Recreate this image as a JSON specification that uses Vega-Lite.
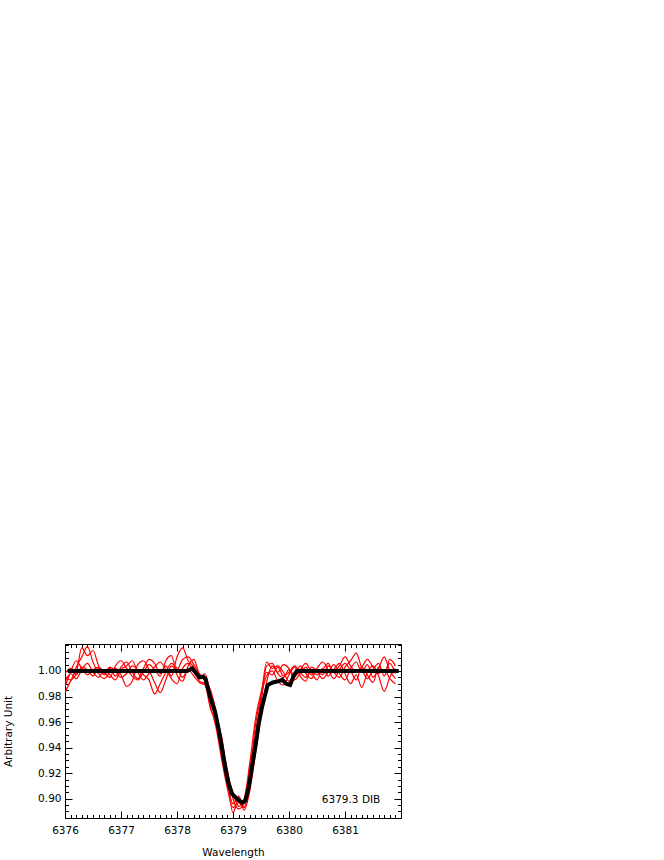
{
  "$schema": "https://vega.github.io/schema/vega-lite/v6.json",
  "width": 336,
  "height": 174,
  "autosize": {"type": "none"},
  "padding": {"left": 65, "top": 644, "right": 263, "bottom": 42},
  "background": "white",
  "config": {
    "view": {"stroke": "black", "strokeWidth": 1},
    "font": "DejaVu Sans",
    "axis": {"grid": false, "domain": false, "labelColor": "black", "titleColor": "black", "tickColor": "black", "labelFontSize": 10.5, "titleFontSize": 10.5, "titleFontWeight": "normal", "labelFlush": false, "labelOverlap": false}
  },
  "datasets": {
    "red": [
      {"w": 6376.0, "A": 0.983, "B": 0.996, "C": 0.991, "D": 0.998, "E": 0.988},
      {"w": 6376.1, "A": 0.992, "B": 0.993, "C": 0.998, "D": 1.002, "E": 0.999},
      {"w": 6376.2, "A": 0.998, "B": 1.003, "C": 0.994, "D": 0.997, "E": 1.008},
      {"w": 6376.3, "A": 1.018, "B": 1.011, "C": 1.001, "D": 1.003, "E": 1.002},
      {"w": 6376.4, "A": 1.012, "B": 1.019, "C": 1.006, "D": 1.001, "E": 0.997},
      {"w": 6376.5, "A": 1.016, "B": 1.007, "C": 0.999, "D": 0.996, "E": 1.001},
      {"w": 6376.6, "A": 1.004, "B": 0.998, "C": 0.995, "D": 1.002, "E": 1.003},
      {"w": 6376.7, "A": 0.997, "B": 0.994, "C": 1.001, "D": 0.998, "E": 0.999},
      {"w": 6376.8, "A": 1.002, "B": 0.999, "C": 0.997, "D": 1.003, "E": 0.995},
      {"w": 6376.9, "A": 0.996, "B": 1.002, "C": 0.993, "D": 1.000, "E": 1.004},
      {"w": 6377.0, "A": 1.003, "B": 0.997, "C": 1.001, "D": 0.995, "E": 1.008},
      {"w": 6377.1, "A": 1.007, "B": 0.988, "C": 1.004, "D": 0.998, "E": 1.002},
      {"w": 6377.2, "A": 0.999, "B": 0.992, "C": 1.008, "D": 1.004, "E": 0.996},
      {"w": 6377.3, "A": 0.994, "B": 1.005, "C": 0.999, "D": 1.001, "E": 0.993},
      {"w": 6377.4, "A": 1.002, "B": 1.008, "C": 0.993, "D": 0.997, "E": 0.999},
      {"w": 6377.5, "A": 1.009, "B": 1.001, "C": 0.998, "D": 0.993, "E": 1.005},
      {"w": 6377.6, "A": 1.006, "B": 0.991, "C": 1.003, "D": 0.982, "E": 1.001},
      {"w": 6377.7, "A": 0.998, "B": 0.983, "C": 1.007, "D": 0.990, "E": 0.996},
      {"w": 6377.8, "A": 1.004, "B": 0.993, "C": 1.001, "D": 0.999, "E": 1.008},
      {"w": 6377.9, "A": 0.996, "B": 1.004, "C": 0.994, "D": 1.006, "E": 1.012},
      {"w": 6378.0, "A": 1.011, "B": 1.001, "C": 0.990, "D": 1.002, "E": 0.997},
      {"w": 6378.1, "A": 1.018, "B": 1.009, "C": 1.002, "D": 0.995, "E": 0.992},
      {"w": 6378.2, "A": 1.008, "B": 1.011, "C": 1.006, "D": 1.001, "E": 1.004},
      {"w": 6378.3, "A": 1.003, "B": 1.005, "C": 0.999, "D": 0.996, "E": 1.009},
      {"w": 6378.4, "A": 0.992, "B": 0.998, "C": 0.994, "D": 0.991, "E": 0.997},
      {"w": 6378.5, "A": 0.990, "B": 0.993, "C": 0.998, "D": 0.989, "E": 0.992},
      {"w": 6378.6, "A": 0.972, "B": 0.985, "C": 0.981, "D": 0.970, "E": 0.976},
      {"w": 6378.7, "A": 0.955, "B": 0.968, "C": 0.958, "D": 0.962, "E": 0.964},
      {"w": 6378.8, "A": 0.930, "B": 0.945, "C": 0.935, "D": 0.948, "E": 0.939},
      {"w": 6378.9, "A": 0.908, "B": 0.922, "C": 0.912, "D": 0.915, "E": 0.920},
      {"w": 6379.0, "A": 0.893, "B": 0.900, "C": 0.896, "D": 0.889, "E": 0.905},
      {"w": 6379.1, "A": 0.897, "B": 0.892, "C": 0.902, "D": 0.900, "E": 0.894},
      {"w": 6379.2, "A": 0.893, "B": 0.896, "C": 0.893, "D": 0.891, "E": 0.900},
      {"w": 6379.3, "A": 0.912, "B": 0.924, "C": 0.917, "D": 0.906, "E": 0.928},
      {"w": 6379.4, "A": 0.945, "B": 0.951, "C": 0.957, "D": 0.935, "E": 0.962},
      {"w": 6379.5, "A": 0.975, "B": 0.978, "C": 0.980, "D": 0.964, "E": 0.983},
      {"w": 6379.6, "A": 1.004, "B": 1.007, "C": 0.996, "D": 0.991, "E": 0.999},
      {"w": 6379.7, "A": 1.006, "B": 1.002, "C": 1.000, "D": 1.004, "E": 0.997},
      {"w": 6379.8, "A": 0.998, "B": 1.004, "C": 0.992, "D": 0.999, "E": 1.003},
      {"w": 6379.9, "A": 0.995, "B": 0.999, "C": 0.989, "D": 1.005, "E": 0.996},
      {"w": 6380.0, "A": 1.001, "B": 0.992, "C": 0.997, "D": 1.002, "E": 0.999},
      {"w": 6380.1, "A": 0.997, "B": 0.995, "C": 1.003, "D": 0.993, "E": 1.004},
      {"w": 6380.2, "A": 1.004, "B": 1.001, "C": 0.996, "D": 0.998, "E": 0.999},
      {"w": 6380.3, "A": 0.998, "B": 1.006, "C": 0.992, "D": 1.003, "E": 0.995},
      {"w": 6380.4, "A": 0.994, "B": 0.999, "C": 1.003, "D": 0.997, "E": 1.001},
      {"w": 6380.5, "A": 1.001, "B": 0.993, "C": 1.000, "D": 1.002, "E": 0.997},
      {"w": 6380.6, "A": 0.997, "B": 1.002, "C": 0.994, "D": 1.007, "E": 1.001},
      {"w": 6380.7, "A": 1.004, "B": 0.996, "C": 0.999, "D": 1.001, "E": 1.006},
      {"w": 6380.8, "A": 0.999, "B": 1.001, "C": 1.005, "D": 0.994, "E": 0.999},
      {"w": 6380.9, "A": 0.995, "B": 1.006, "C": 0.998, "D": 1.001, "E": 1.004},
      {"w": 6381.0, "A": 1.003, "B": 0.998, "C": 0.993, "D": 1.006, "E": 1.011},
      {"w": 6381.1, "A": 1.008, "B": 0.990, "C": 1.002, "D": 1.000, "E": 1.004},
      {"w": 6381.2, "A": 1.014, "B": 0.997, "C": 1.007, "D": 0.993, "E": 0.999},
      {"w": 6381.3, "A": 1.002, "B": 0.987, "C": 0.999, "D": 1.003, "E": 1.003},
      {"w": 6381.4, "A": 0.994, "B": 0.999, "C": 1.005, "D": 0.997, "E": 1.009},
      {"w": 6381.5, "A": 1.001, "B": 1.004, "C": 0.995, "D": 0.991, "E": 1.003},
      {"w": 6381.6, "A": 1.006, "B": 0.996, "C": 1.002, "D": 1.003, "E": 0.998},
      {"w": 6381.7, "A": 0.996, "B": 0.984, "C": 1.011, "D": 0.999, "E": 1.001},
      {"w": 6381.8, "A": 1.009, "B": 0.995, "C": 1.000, "D": 1.006, "E": 0.994},
      {"w": 6381.9, "A": 1.004, "B": 1.002, "C": 0.994, "D": 0.998, "E": 0.990}
    ],
    "black": [
      {"w": 6376.05, "f": 1.0},
      {"w": 6378.18, "f": 1.0},
      {"w": 6378.27, "f": 1.002},
      {"w": 6378.33, "f": 0.999},
      {"w": 6378.40, "f": 0.995},
      {"w": 6378.47, "f": 0.9955},
      {"w": 6378.51, "f": 0.9935},
      {"w": 6378.59, "f": 0.980},
      {"w": 6378.68, "f": 0.968},
      {"w": 6378.74, "f": 0.955},
      {"w": 6378.80, "f": 0.941},
      {"w": 6378.86, "f": 0.925},
      {"w": 6378.92, "f": 0.912},
      {"w": 6378.98, "f": 0.904},
      {"w": 6379.07, "f": 0.900},
      {"w": 6379.16, "f": 0.897},
      {"w": 6379.22, "f": 0.8985},
      {"w": 6379.28, "f": 0.909},
      {"w": 6379.34, "f": 0.925},
      {"w": 6379.40, "f": 0.941},
      {"w": 6379.46, "f": 0.959},
      {"w": 6379.52, "f": 0.972},
      {"w": 6379.58, "f": 0.9825},
      {"w": 6379.62, "f": 0.989},
      {"w": 6379.71, "f": 0.991},
      {"w": 6379.82, "f": 0.992},
      {"w": 6379.88, "f": 0.993},
      {"w": 6379.95, "f": 0.990},
      {"w": 6380.02, "f": 0.989},
      {"w": 6380.08, "f": 0.996},
      {"w": 6380.14, "f": 1.0},
      {"w": 6381.96, "f": 1.0}
    ],
    "note": [
      {"w": 6381.63, "f": 0.899, "t": "6379.3 DIB"}
    ]
  },
  "resolve": {"scale": {"x": "shared", "y": "shared"}, "axis": {"x": "independent", "y": "independent"}},
  "layer": [
    {
      "data": {"name": "red"},
      "transform": [{"fold": ["A", "B", "C", "D", "E"], "as": ["s", "f"]}],
      "mark": {"type": "line", "color": "#ff0000", "strokeWidth": 1.2, "interpolate": "monotone", "clip": true},
      "encoding": {
        "x": {"field": "w", "type": "quantitative", "scale": {"domain": [6376, 6382], "nice": false, "zero": false},
          "axis": {"orient": "bottom", "values": [6376, 6377, 6378, 6379, 6380, 6381], "format": "d", "ticks": false, "tickSize": 0, "labelPadding": 7, "title": "Wavelength", "titlePadding": 12}},
        "y": {"field": "f", "type": "quantitative", "scale": {"domain": [0.8849, 1.0211], "nice": false, "zero": false},
          "axis": {"orient": "left", "values": [0.9, 0.92, 0.94, 0.96, 0.98, 1.0], "format": ".2f", "ticks": false, "tickSize": 0, "labelPadding": 4, "title": "Arbitrary Unit", "titlePadding": 24}},
        "detail": {"field": "s", "type": "nominal"}
      }
    },
    {
      "data": {"name": "black"},
      "mark": {"type": "line", "color": "black", "strokeWidth": 4, "clip": true},
      "encoding": {
        "x": {"field": "w", "type": "quantitative", "scale": {"domain": [6376, 6382], "nice": false, "zero": false},
          "axis": {"orient": "bottom", "values": [6376, 6377, 6378, 6379, 6380, 6381, 6382], "labels": false, "tickSize": -7, "title": null}},
        "y": {"field": "f", "type": "quantitative", "scale": {"domain": [0.8849, 1.0211], "nice": false, "zero": false},
          "axis": {"orient": "left", "values": [0.9, 0.92, 0.94, 0.96, 0.98, 1.0], "labels": false, "tickSize": -7, "title": null}}
      }
    },
    {
      "data": {"name": "note"},
      "mark": {"type": "text", "align": "right", "baseline": "middle", "fontSize": 10.5, "font": "DejaVu Sans", "color": "black"},
      "encoding": {
        "x": {"field": "w", "type": "quantitative", "scale": {"domain": [6376, 6382], "nice": false, "zero": false},
          "axis": {"orient": "bottom", "values": [6376.1, 6376.2, 6376.3, 6376.4, 6376.5, 6376.6, 6376.7, 6376.8, 6376.9, 6377.1, 6377.2, 6377.3, 6377.4, 6377.5, 6377.6, 6377.7, 6377.8, 6377.9, 6378.1, 6378.2, 6378.3, 6378.4, 6378.5, 6378.6, 6378.7, 6378.8, 6378.9, 6379.1, 6379.2, 6379.3, 6379.4, 6379.5, 6379.6, 6379.7, 6379.8, 6379.9, 6380.1, 6380.2, 6380.3, 6380.4, 6380.5, 6380.6, 6380.7, 6380.8, 6380.9, 6381.1, 6381.2, 6381.3, 6381.4, 6381.5, 6381.6, 6381.7, 6381.8, 6381.9], "labels": false, "tickSize": -3.5, "title": null}},
        "y": {"field": "f", "type": "quantitative", "scale": {"domain": [0.8849, 1.0211], "nice": false, "zero": false},
          "axis": {"orient": "left", "values": [0.885, 0.89, 0.895, 0.905, 0.91, 0.915, 0.925, 0.93, 0.935, 0.945, 0.95, 0.955, 0.965, 0.97, 0.975, 0.985, 0.99, 0.995, 1.005, 1.01, 1.015, 1.02], "labels": false, "tickSize": -3.5, "title": null}},
        "text": {"field": "t", "type": "nominal"}
      }
    },
    {
      "data": {"name": "black"},
      "mark": {"type": "point", "opacity": 0},
      "encoding": {
        "x": {"field": "w", "type": "quantitative", "scale": {"domain": [6376, 6382], "nice": false, "zero": false},
          "axis": {"orient": "top", "values": [6376, 6377, 6378, 6379, 6380, 6381, 6382], "labels": false, "tickSize": -7, "title": null}},
        "y": {"field": "f", "type": "quantitative", "scale": {"domain": [0.8849, 1.0211], "nice": false, "zero": false},
          "axis": {"orient": "right", "values": [0.9, 0.92, 0.94, 0.96, 0.98, 1.0], "labels": false, "tickSize": -7, "title": null}}
      }
    },
    {
      "data": {"name": "black"},
      "mark": {"type": "point", "opacity": 0},
      "encoding": {
        "x": {"field": "w", "type": "quantitative", "scale": {"domain": [6376, 6382], "nice": false, "zero": false},
          "axis": {"orient": "top", "values": [6376.1, 6376.2, 6376.3, 6376.4, 6376.5, 6376.6, 6376.7, 6376.8, 6376.9, 6377.1, 6377.2, 6377.3, 6377.4, 6377.5, 6377.6, 6377.7, 6377.8, 6377.9, 6378.1, 6378.2, 6378.3, 6378.4, 6378.5, 6378.6, 6378.7, 6378.8, 6378.9, 6379.1, 6379.2, 6379.3, 6379.4, 6379.5, 6379.6, 6379.7, 6379.8, 6379.9, 6380.1, 6380.2, 6380.3, 6380.4, 6380.5, 6380.6, 6380.7, 6380.8, 6380.9, 6381.1, 6381.2, 6381.3, 6381.4, 6381.5, 6381.6, 6381.7, 6381.8, 6381.9], "labels": false, "tickSize": -3.5, "title": null}},
        "y": {"field": "f", "type": "quantitative", "scale": {"domain": [0.8849, 1.0211], "nice": false, "zero": false},
          "axis": {"orient": "right", "values": [0.885, 0.89, 0.895, 0.905, 0.91, 0.915, 0.925, 0.93, 0.935, 0.945, 0.95, 0.955, 0.965, 0.97, 0.975, 0.985, 0.99, 0.995, 1.005, 1.01, 1.015, 1.02], "labels": false, "tickSize": -3.5, "title": null}}
      }
    }
  ]
}
